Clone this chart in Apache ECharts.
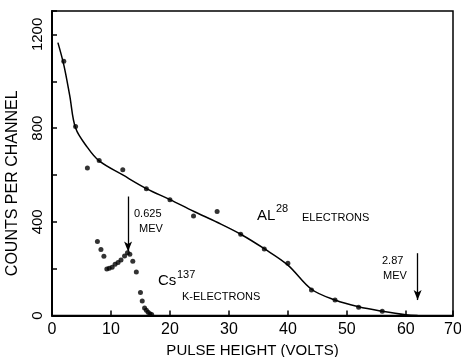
<!DOCTYPE html>
<html><head><meta charset="utf-8">
<script src="https://cdn.jsdelivr.net/npm/echarts@6/dist/echarts.min.js"></script>
<style>html,body{margin:0;padding:0;background:#fff}#c{width:461px;height:357px}</style>
</head><body><div id="c"></div>
<script>
// Al28 measured points
var alX = [2, 4, 6, 8, 12, 16, 20, 24, 28, 32, 36, 40, 44, 48, 52, 56];
var alY = [1085, 807, 630, 662, 622, 541, 494, 425, 444, 347, 284, 223, 109, 66, 35, 18];
// Al28 fitted curve
var curveX = [1, 2, 3, 4, 6, 8, 12, 16, 20, 24, 28, 32, 36, 40, 44, 48, 52, 56, 60, 62];
var curveY = [1165, 1070, 940, 800, 718, 660, 600, 542, 495, 445, 398, 347, 285, 215, 112, 66, 37, 18, 3, 0];
// Cs137 K-electron points
var csX = [7.7, 8.3, 8.8, 9.3, 9.7, 10.2, 10.7, 11.2, 11.7, 12.3, 12.8, 13.2, 13.7, 14.3, 15.0, 15.3, 15.7, 16.0, 16.3, 16.6, 16.9];
var csY = [316, 282, 253, 199, 202, 206, 219, 226, 237, 254, 268, 262, 232, 186, 98, 62, 32, 22, 14, 8, 4];
// arrows: [x, yFrom, yTo]
var arrows = [[12.9, 508, 273], [62.0, 266, 66]];
var xTickLabels = {0:'0',10:'10',20:'20',30:'30',40:'40',50:'50',60:'60',68:'70'};
var yTickLabels = {0:'0',400:'400',800:'800',1200:'1200'};

function zip(a, b) { return a.map(function (v, i) { return [v, b[i]]; }); }
var FF = 'Liberation Sans, Arial, sans-serif';
var chart = echarts.init(document.getElementById('c'));
chart.setOption({
  animation: false,
  backgroundColor: '#fff',
  grid: { left: 52, right: 8, top: 11, bottom: 41.5, show: true, borderColor: '#000', borderWidth: 1.5, outerBoundsMode: 'none', containLabel: false },
  xAxis: {
    type: 'value', min: 0, max: 68, interval: 10,
    name: 'PULSE HEIGHT (VOLTS)', nameLocation: 'middle', nameGap: 28,
    nameTextStyle: { fontFamily: FF, fontSize: 15, color: '#000' },
    axisLine: { lineStyle: { color: '#000', width: 2 } },
    axisTick: { inside: true, length: 5, lineStyle: { color: '#000', width: 1.5 } },
    axisLabel: { interval: 0, margin: 6, fontFamily: FF, fontSize: 16, color: '#000',
      formatter: function (v) { return xTickLabels[v] !== undefined ? xTickLabels[v] : ''; } },
    splitLine: { show: false }
  },
  yAxis: {
    type: 'value', min: 0, max: 1300, interval: 200,
    name: 'COUNTS PER CHANNEL', nameLocation: 'middle', nameGap: 31, nameRotate: 90,
    nameTextStyle: { fontFamily: FF, fontSize: 16, color: '#000', padding: [0, 40, 0, 0] },
    axisLine: { lineStyle: { color: '#000', width: 2 } },
    axisTick: { inside: true, length: 5, lineStyle: { color: '#000', width: 1.5 } },
    axisLabel: { rotate: 90, margin: 7, fontFamily: FF, fontSize: 15, color: '#000',
      formatter: function (v) { return yTickLabels[v] !== undefined ? yTickLabels[v] : ''; } },
    splitLine: { show: false }
  },
  series: [
    { type: 'line', data: zip(curveX, curveY), smooth: 0.35, showSymbol: false, symbol: 'none',
      lineStyle: { color: '#000', width: 1.5 }, z: 2,
      markLine: { silent: true, symbol: ['none', 'arrow'], symbolSize: [6, 10],
        label: { show: false }, lineStyle: { color: '#000', width: 1.3, type: 'solid' },
        data: arrows.map(function (a) { return [{ coord: [a[0], a[1]] }, { coord: [a[0], a[2]] }]; }) } },
    { type: 'scatter', data: zip(alX, alY), symbolSize: 5, itemStyle: { color: '#000' }, z: 3 },
    { type: 'scatter', data: zip(csX, csY), symbolSize: 5, itemStyle: { color: '#000' }, z: 3 }
  ],
  graphic: [
    { type: 'text', left: 134, top: 208, style: { text: '0.625', font: '11px ' + FF, fill: '#000' } },
    { type: 'text', left: 139, top: 223, style: { text: 'MEV', font: '11px ' + FF, fill: '#000' } },
    { type: 'text', left: 382, top: 255, style: { text: '2.87', font: '11px ' + FF, fill: '#000' } },
    { type: 'text', left: 383, top: 270, style: { text: 'MEV', font: '11px ' + FF, fill: '#000' } },
    { type: 'text', left: 257, top: 208, style: { text: 'AL', font: '15px ' + FF, fill: '#000' } },
    { type: 'text', left: 276, top: 203, style: { text: '28', font: '11px ' + FF, fill: '#000' } },
    { type: 'text', left: 302, top: 212, style: { text: 'ELECTRONS', font: '11px ' + FF, fill: '#000' } },
    { type: 'text', left: 158, top: 273, style: { text: 'Cs', font: '15px ' + FF, fill: '#000' } },
    { type: 'text', left: 177, top: 269, style: { text: '137', font: '11px ' + FF, fill: '#000' } },
    { type: 'text', left: 182, top: 291, style: { text: 'K-ELECTRONS', font: '11px ' + FF, fill: '#000' } }
  ]
});
</script></body></html>
